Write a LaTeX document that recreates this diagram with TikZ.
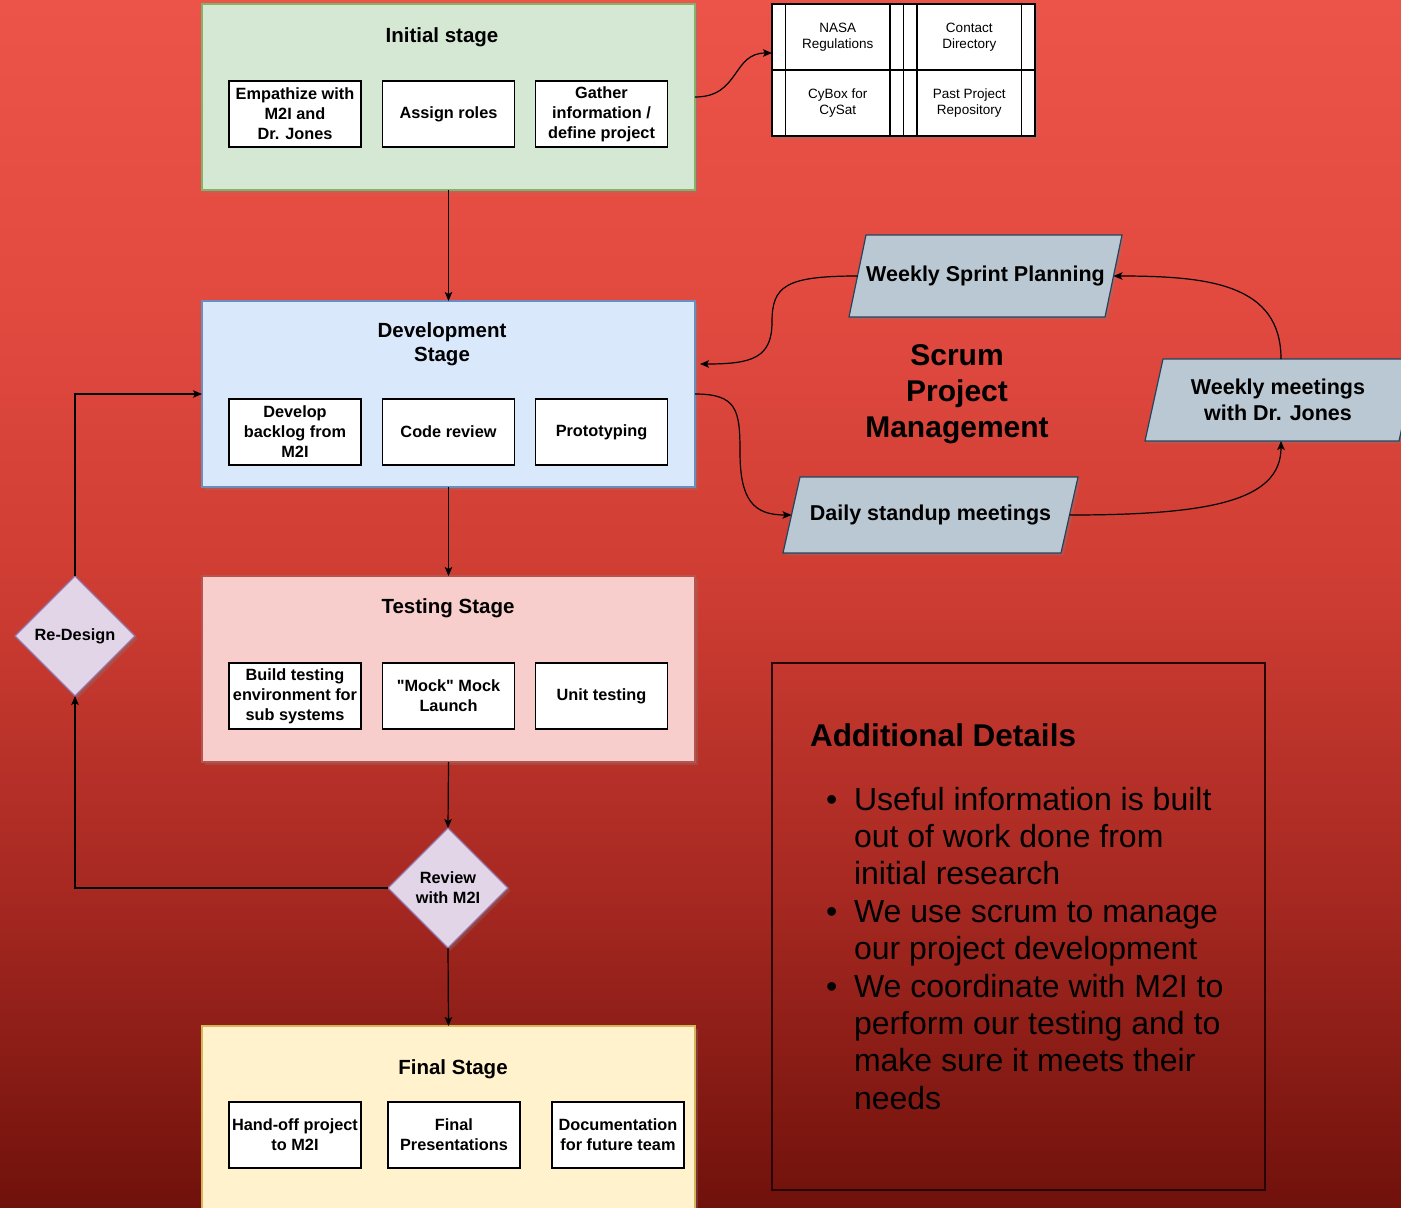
\documentclass[tikz,border=0pt]{standalone}
\usepackage{fontspec}
\setmainfont{Liberation Sans}[Ligatures=TeXOff]
\usetikzlibrary{shapes.geometric,arrows.meta,shadows,calc}
\newcommand{\myfs}[2]{\fontsize{#1}{#2}\selectfont}
\definecolor{bgtop}{RGB}{236,84,74}
\definecolor{bgup}{RGB}{226,74,64}
\definecolor{bgmid}{RGB}{205,60,50}
\definecolor{bgmidb}{RGB}{165,40,33}
\definecolor{bgbot}{RGB}{112,17,11}
\definecolor{iniF}{HTML}{D5E8D4}\definecolor{iniB}{HTML}{82B366}
\definecolor{devF}{HTML}{DAE8FC}\definecolor{devB}{HTML}{6C8EBF}
\definecolor{tstF}{HTML}{F8CECC}\definecolor{tstB}{HTML}{B85450}
\definecolor{finF}{HTML}{FFF2CC}\definecolor{finB}{HTML}{D6B656}
\definecolor{diaF}{HTML}{E1D5E7}\definecolor{diaB}{HTML}{9673A6}
\definecolor{parF}{HTML}{BAC8D3}\definecolor{parB}{HTML}{23445D}
\definecolor{adB}{RGB}{40,5,5}
\pgfdeclareverticalshading{bgshade}{100bp}{color(0bp)=(bgbot); color(25bp)=(bgbot); color(37.75bp)=(bgmidb); color(50.2bp)=(bgmid); color(62.5bp)=(bgup); color(75bp)=(bgtop); color(100bp)=(bgtop)}
% #1 centre coordinate, #2 half total width, #3 half height, #4 slant
\newcommand{\drawpara}[4]{%
  \filldraw[paraline] ($(#1)+(-#2+#4,-#3)$) -- ($(#1)+(#2,-#3)$) -- ($(#1)+(#2-#4,#3)$) -- ($(#1)+(-#2,#3)$) -- cycle;}
\begin{document}
\begin{tikzpicture}[x=1pt,y=-1pt,
  every node/.style={inner sep=0pt, outer sep=0pt},
  shad/.style={drop shadow={shadow xshift=2.5pt,shadow yshift=-2.5pt,opacity=0.3}},
  stage/.style={draw, line width=1.2pt, minimum width=493pt, minimum height=186pt, shad},
  title/.style={font=\bfseries\myfs{20.5}{24.5}, align=center},
  inbox/.style={draw, line width=1.1pt, fill=white, minimum width=132pt, minimum height=66pt, align=center, font=\bfseries\myfs{16.3}{20}},
  dia/.style={diamond, aspect=1, draw=diaB, fill=diaF, line width=1.2pt, minimum width=120pt, minimum height=120pt, align=center, font=\bfseries\myfs{16.3}{20}, shad},
  paraline/.style={draw=parB, fill=parF, line width=1.2pt, shad},
  paratext/.style={align=center, font=\bfseries\myfs{21.5}{26}},
  proc/.style={draw, fill=white, line width=1.1pt, minimum width=131.5pt, minimum height=66pt, align=center, font=\myfs{13.5}{16}, shad},
  arr/.style={line width=1.2pt, -{Stealth[length=9pt,width=7.5pt,inset=2pt]}},
  bul/.style={anchor=base west, font=\myfs{32}{37}},
]
\useasboundingbox (0,0) rectangle (1401,1208);
\clip (0,0) rectangle (1401,1208);
\shade[shading=bgshade] (0,0) rectangle (1401,1208);

% stages
\node[stage, fill=iniF, draw=iniB] (init) at (448.5,97) {};
\node[title] (initT) at (442,37) {Initial stage};
\node[inbox] (i1) at (295,114) {Empathize with\\M2I and\\Dr. Jones};
\node[inbox] (i2) at (448.5,114) {Assign roles};
\node[inbox] (i3) at (601.5,114) {Gather\\information /\\define project};

\node[stage, fill=devF, draw=devB] (dev) at (448.5,394) {};
\node[title] (devT) at (442,344) {Development\\Stage};
\node[inbox] (d1) at (295,432) {Develop\\backlog from\\M2I};
\node[inbox] (d2) at (448.5,432) {Code review};
\node[inbox] (d3) at (601.5,432) {Prototyping};

\node[stage, fill=tstF, draw=tstB] (test) at (448.5,669) {};
\node[title] (testT) at (448,608) {Testing Stage};
\node[inbox] (s1) at (295,696) {Build testing\\environment for\\sub systems};
\node[inbox] (s2) at (448.5,696) {"Mock" Mock\\Launch};
\node[inbox] (s3) at (601.5,696) {Unit testing};

\node[stage, fill=finF, draw=finB] (final) at (448.5,1119) {};
\node[title] (finT) at (453,1069) {Final Stage};
\node[inbox] (f1) at (295,1135) {Hand-off project\\to M2I};
\node[inbox] (f2) at (454,1135) {Final\\Presentations};
\node[inbox] (f3) at (618,1135) {Documentation\\for future team};

% diamonds
\node[dia] (redesign) at (75,636) {Re-Design};
\node[dia] (review) at (448,888) {Review\\with M2I};

% resources table
\node[proc] (t1) at (837.75,37) {NASA\\Regulations};
\node[proc] (t2) at (969.25,37) {Contact\\Directory};
\node[proc] (t3) at (837.75,103) {CyBox for\\CySat};
\node[proc] (t4) at (969.25,103) {Past Project\\Repository};
\foreach \t in {t1,t2,t3,t4}{
  \draw[line width=1.1pt] ($(\t.north west)+(13.5,0)$) -- ($(\t.south west)+(13.5,0)$);
  \draw[line width=1.1pt] ($(\t.north east)+(-13.5,0)$) -- ($(\t.south east)+(-13.5,0)$);
}

% scrum
\coordinate (sprintC) at (985.5,276);
\coordinate (dailyC) at (930.5,515);
\coordinate (weeklyC) at (1281,400);
\drawpara{sprintC}{136.5}{41}{17}
\drawpara{dailyC}{147.5}{38}{17}
\drawpara{weeklyC}{136}{41}{18}
\node[paratext, minimum width=256pt, minimum height=82pt] (sprint) at (sprintC) {Weekly Sprint Planning};
\node[paratext, minimum width=278pt, minimum height=76pt] (daily) at (dailyC) {Daily standup meetings};
\node[paratext, minimum width=254pt, minimum height=82pt] (weekly) at ($(weeklyC)+(-3,0)$) {Weekly meetings\\with Dr. Jones};
\node[font=\bfseries\myfs{30}{36}, align=center] (scrum) at (957,394) {Scrum\\Project\\Management};

% additional details
\node[draw=adB, line width=1.2pt, minimum width=493pt, minimum height=527pt] (adbox) at (1018.5,926.5) {};
\node[anchor=base west, font=\bfseries\myfs{31.5}{36}] (adT) at (810,746) {Additional Details};
\node[bul] (b1) at (826,810) {•};
\node[bul] (b2) at (826,922) {•};
\node[bul] (b3) at (826,997) {•};
\node[bul] (l1) at (854,810) {Useful information is built};
\node[bul] (l2) at (854,847) {out of work done from};
\node[bul] (l3) at (854,884) {initial research};
\node[bul] (l4) at (854,922) {We use scrum to manage};
\node[bul] (l5) at (854,959) {our project development};
\node[bul] (l6) at (854,997) {We coordinate with M2I to};
\node[bul] (l7) at (854,1034) {perform our testing and to};
\node[bul] (l8) at (854,1071) {make sure it meets their};
\node[bul] (l9) at (854,1109) {needs};

% connectors
\coordinate (bendA) at (740,452);
\coordinate (bendB) at (772,322);
\draw[arr] (init.south) -- (dev.north);
\draw[arr] (dev.south) -- (test.north);
\draw[arr] (test.south) -- (review.north);
\draw[arr] (review.south) -- (final.north);
\draw[arr] (review.west) -| (redesign.south);
\draw[arr] (redesign.north) |- (dev.west);
\draw[arr] (init.east) .. controls +(45,0) and +(-40,0) .. ($(t1.west)+(0,16)$);
\draw[arr] (dev.east) .. controls +(42,0) and +(0,-42) .. (bendA) .. controls +(0,48) and +(-38,0) .. (daily.west);
\draw[arr] (daily.east) .. controls +(140,0) and +(0,60) .. ($(weeklyC)+(0,41)$);
\draw[arr] ($(weeklyC)+(0,-41)$) .. controls +(0,-75) and +(95,0) .. (sprint.east);
\draw[arr] (sprint.west) .. controls +(-72,0) and +(0,-36) .. (bendB) .. controls +(0,36) and +(52,0) .. ($(dev.east)+(5,-30)$);
\end{tikzpicture}
\end{document}
